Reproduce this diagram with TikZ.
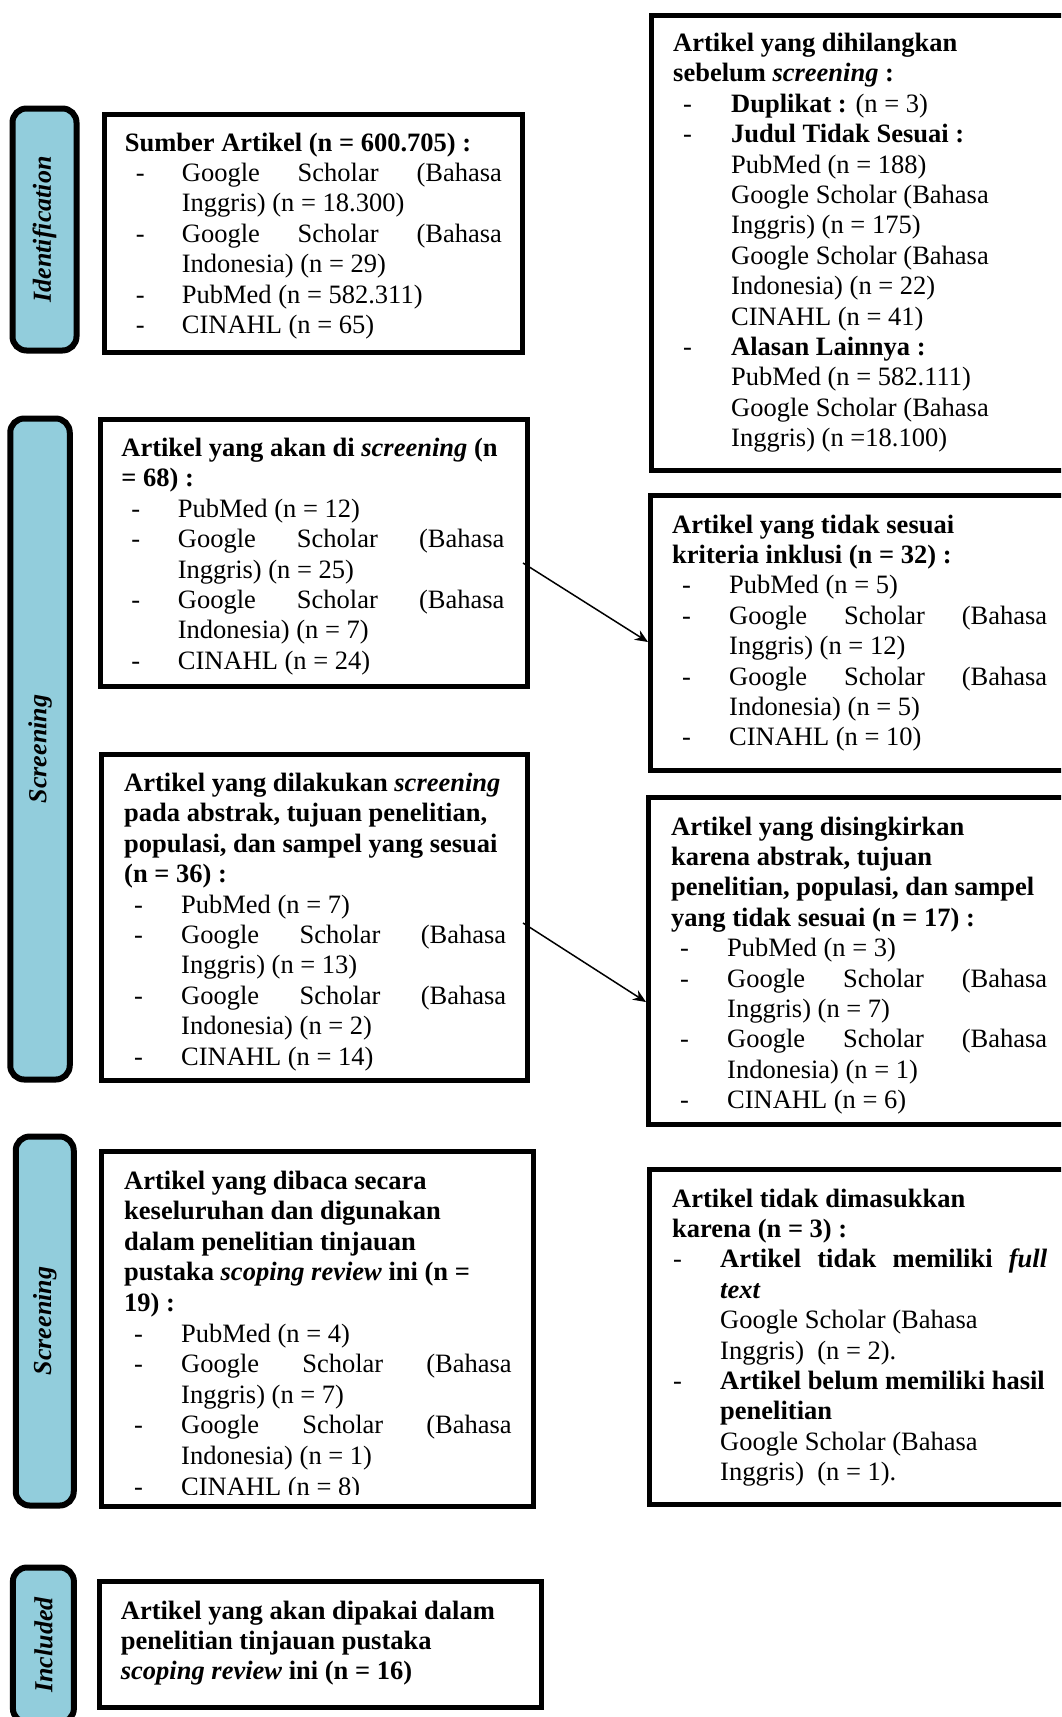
\documentclass[tikz,border=0pt]{standalone}
\usepackage{fontspec}
\setmainfont{Liberation Serif}
\usetikzlibrary{arrows.meta,calc}
\definecolor{tabblue}{RGB}{146,205,220}
\newlength\dind
\newlength\cind
\newcommand\hdl[1]{\noindent\textbf{#1}\par}
\newcommand\dsh[1]{\noindent\hspace*{\dind}\makebox[\dimexpr\cind-\dind\relax][l]{-}#1\par}
\newcommand\cnt[1]{\noindent\hspace*{\cind}#1\par}
\newcommand\jst[1]{\hbox to \dimexpr\linewidth-\cind\relax{#1}}
\newcommand\setind[2]{\setlength\dind{#1pt}\setlength\cind{#2pt}\setlength\parskip{0pt}\setlength\parindent{0pt}}
\tikzset{
  boxnode/.style={draw=black, line width=5pt, rectangle, inner sep=0pt},
  tabnode/.style={draw=black, fill=tabblue, line width=6pt, rounded corners=14pt, rotate=90, inner sep=0pt,
    font=\fontsize{26}{30}\selectfont\bfseries\itshape},
  txt/.style={anchor=base west, inner sep=0pt, font=\fontsize{26.5}{30.4}\selectfont},
  arr/.style={line width=1.5pt, -{Stealth[length=13pt,width=11pt]}}
}
\begin{document}
\begin{tikzpicture}[x=1pt,y=-1pt]
\useasboundingbox (0,0) rectangle (1061,1717);
\clip (0,0) rectangle (1061,1717);

% side tabs
\node[tabnode, minimum width=242pt, minimum height=64pt] (tabI) at (44.5,229.5) {Identification};
\node[tabnode, minimum width=661pt, minimum height=59.5pt] (tabS1) at (40,749) {Screening};
\node[tabnode, minimum width=369pt, minimum height=58pt] (tabS2) at (44.75,1321) {Screening};
\node[tabnode, minimum width=155pt, minimum height=61pt] (tabInc) at (43.4,1645) {Included};

% boxes
\node[boxnode, minimum width=418pt, minimum height=238pt] (b1) at (313.5,233.5) {};
\node[boxnode, minimum width=427.5pt, minimum height=267pt] (b2) at (313.75,553) {};
\node[boxnode, minimum width=426pt, minimum height=326pt] (b3) at (314.5,917.5) {};
\node[boxnode, minimum width=431.5pt, minimum height=355pt] (b4) at (317.25,1329) {};
\node[boxnode, minimum width=441.6pt, minimum height=126pt] (b5) at (320.3,1644.5) {};
\node[boxnode, minimum width=426pt, minimum height=455pt] (r1) at (864.5,243) {};
\node[boxnode, minimum width=427pt, minimum height=275pt] (r2) at (864,633) {};
\node[boxnode, minimum width=429pt, minimum height=327pt] (r3) at (863,961) {};
\node[boxnode, minimum width=428pt, minimum height=335pt] (r4) at (863.5,1337) {};

% texts
\node[txt] (t1) at (124.7,151) {\parbox[t]{377pt}{\setind{11}{57}%
\hdl{Sumber Artikel (n = 600.705) :}
\dsh{\jst{Google\hfill Scholar\hfill (Bahasa}}
\cnt{Inggris) (n = 18.300)}
\dsh{\jst{Google\hfill Scholar\hfill (Bahasa}}
\cnt{Indonesia) (n = 29)}
\dsh{PubMed (n = 582.311)}
\dsh{CINAHL (n = 65)}}};

\node[txt] (t2) at (121.2,456.5) {\parbox[t]{383pt}{\setind{10}{56.5}%
\hdl{Artikel yang akan di \textit{screening} (n}
\hdl{= 68) :}
\dsh{PubMed (n = 12)}
\dsh{\jst{Google\hfill Scholar\hfill (Bahasa}}
\cnt{Inggris) (n = 25)}
\dsh{\jst{Google\hfill Scholar\hfill (Bahasa}}
\cnt{Indonesia) (n = 7)}
\dsh{CINAHL (n = 24)}}};

\node[txt] (t3) at (124,791.5) {\parbox[t]{382pt}{\setind{10}{57}%
\hdl{Artikel yang dilakukan \textit{screening}}
\hdl{pada abstrak, tujuan penelitian,}
\hdl{populasi, dan sampel yang sesuai}
\hdl{(n = 36) :}
\dsh{PubMed (n = 7)}
\dsh{\jst{Google\hfill Scholar\hfill (Bahasa}}
\cnt{Inggris) (n = 13)}
\dsh{\jst{Google\hfill Scholar\hfill (Bahasa}}
\cnt{Indonesia) (n = 2)}
\dsh{CINAHL (n = 14)}}};

\begin{scope}
\clip (96,1149) rectangle (540,1494);
\node[txt, font=\fontsize{26.5}{30.6}\selectfont] (t4) at (124,1189) {\parbox[t]{387.5pt}{\setind{10}{57}%
\hdl{Artikel yang dibaca secara}
\hdl{keseluruhan dan digunakan}
\hdl{dalam penelitian tinjauan}
\hdl{pustaka \textit{scoping review} ini (n =}
\hdl{19) :}
\dsh{PubMed (n = 4)}
\dsh{\jst{Google\hfill Scholar\hfill (Bahasa}}
\cnt{Inggris) (n = 7)}
\dsh{\jst{Google\hfill Scholar\hfill (Bahasa}}
\cnt{Indonesia) (n = 1)}
\dsh{CINAHL (n = 8)}}};
\end{scope}

\node[txt] (t5) at (120.7,1619) {\parbox[t]{400pt}{\setind{0}{0}%
\hdl{Artikel yang akan dipakai dalam}
\hdl{penelitian tinjauan pustaka}
\hdl{\textit{scoping review} ini (n = 16)}}};

\node[txt] (u1) at (673,51.5) {\parbox[t]{375pt}{\setind{10}{58}%
\hdl{Artikel yang dihilangkan}
\hdl{sebelum \textit{screening} :}
\dsh{\textbf{Duplikat :} (n = 3)}
\dsh{\textbf{Judul Tidak Sesuai :}}
\cnt{PubMed (n = 188)}
\cnt{Google Scholar (Bahasa}
\cnt{Inggris) (n = 175)}
\cnt{Google Scholar (Bahasa}
\cnt{Indonesia) (n = 22)}
\cnt{CINAHL (n = 41)}
\dsh{\textbf{Alasan Lainnya :}}
\cnt{PubMed (n = 582.111)}
\cnt{Google Scholar (Bahasa}
\cnt{Inggris) (n =18.100)}}};

\node[txt] (u2) at (672,533) {\parbox[t]{375pt}{\setind{10}{57}%
\hdl{Artikel yang tidak sesuai}
\hdl{kriteria inklusi (n = 32) :}
\dsh{PubMed (n = 5)}
\dsh{\jst{Google\hfill Scholar\hfill (Bahasa}}
\cnt{Inggris) (n = 12)}
\dsh{\jst{Google\hfill Scholar\hfill (Bahasa}}
\cnt{Indonesia) (n = 5)}
\dsh{CINAHL (n = 10)}}};

\node[txt] (u3) at (671,835) {\parbox[t]{376pt}{\setind{9}{56}%
\hdl{Artikel yang disingkirkan}
\hdl{karena abstrak, tujuan}
\hdl{penelitian, populasi, dan sampel}
\hdl{yang tidak sesuai (n = 17) :}
\dsh{PubMed (n = 3)}
\dsh{\jst{Google\hfill Scholar\hfill (Bahasa}}
\cnt{Inggris) (n = 7)}
\dsh{\jst{Google\hfill Scholar\hfill (Bahasa}}
\cnt{Indonesia) (n = 1)}
\dsh{CINAHL (n = 6)}}};

\node[txt] (u4) at (672,1207) {\parbox[t]{375pt}{\setind{1}{48}%
\hdl{Artikel tidak dimasukkan}
\hdl{karena (n = 3) :}
\dsh{\textbf{\jst{Artikel\hfill tidak\hfill memiliki\hfill \textit{full}}}}
\cnt{\textbf{\textit{text}}}
\cnt{Google Scholar (Bahasa}
\cnt{Inggris)\ \ (n = 2).}
\dsh{\textbf{Artikel belum memiliki hasil}}
\cnt{\textbf{penelitian}}
\cnt{Google Scholar (Bahasa}
\cnt{Inggris)\ \ (n = 1).}}};

% arrows
\draw[arr] ($(b2.east)+(-7,10)$) -- ($(r2.west)+(0,9)$);
\draw[arr] ($(b3.east)+(-7,5.5)$) -- ($(r3.west)+(0,41)$);
\end{tikzpicture}
\end{document}
